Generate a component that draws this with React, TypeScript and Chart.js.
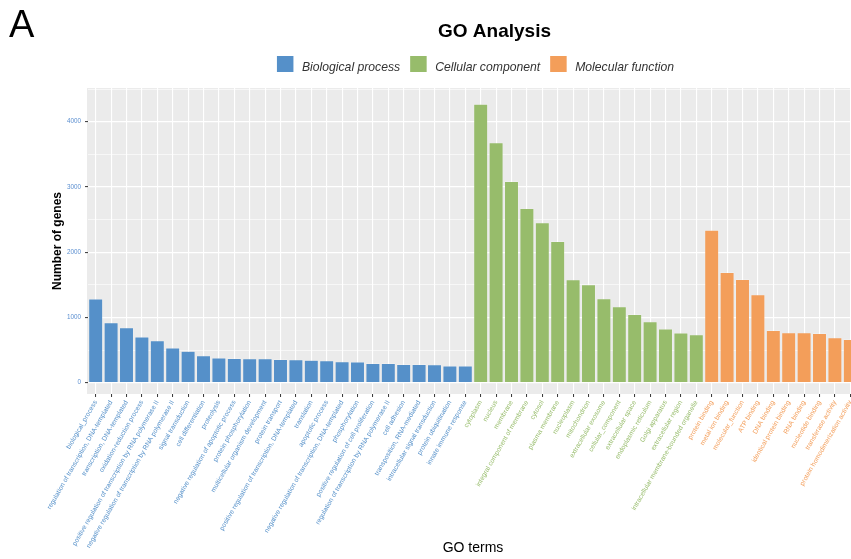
import React, { useEffect, useRef } from "react";
import { Chart, registerables } from "chart.js";

Chart.register(...registerables);

// GO term categories and gene counts, grouped by ontology
const bioProcessTerms = [
  "biological_process",
  "regulation of transcription, DNA-templated",
  "transcription, DNA-templated",
  "oxidation-reduction process",
  "positive regulation of transcription by RNA polymerase II",
  "negative regulation of transcription by RNA polymerase II",
  "signal transduction",
  "cell differentiation",
  "proteolysis",
  "negative regulation of apoptotic process",
  "protein phosphorylation",
  "multicellular organism development",
  "protein transport",
  "positive regulation of transcription, DNA-templated",
  "translation",
  "apoptotic process",
  "negative regulation of transcription, DNA-templated",
  "phosphorylation",
  "positive regulation of cell proliferation",
  "regulation of transcription by RNA polymerase II",
  "cell adhesion",
  "transposition, RNA-mediated",
  "intracellular signal transduction",
  "protein ubiquitination",
  "innate immune response",
];
const bioProcessCounts = [
  1285, 921, 845, 701, 645, 533, 482, 415, 379, 374, 369, 369, 359, 354, 344,
  338, 323, 318, 297, 297, 282, 282, 277, 258, 256,
];

const cellComponentTerms = [
  "cytoplasm",
  "nucleus",
  "membrane",
  "integral component of membrane",
  "cytosol",
  "plasma membrane",
  "nucleoplasm",
  "mitochondrion",
  "extracellular exosome",
  "cellular_component",
  "extracellular space",
  "endoplasmic reticulum",
  "Golgi apparatus",
  "extracellular region",
  "intracellular membrane-bounded organelle",
];
const cellComponentCounts = [
  4271, 3678, 3087, 2672, 2452, 2167, 1579, 1502, 1287, 1165, 1048, 935, 823,
  762, 736,
];

const molFunctionTerms = [
  "protein binding",
  "metal ion binding",
  "molecular_function",
  "ATP binding",
  "DNA binding",
  "identical protein binding",
  "RNA binding",
  "nucleotide binding",
  "transferase activity",
  "protein homodimerization activity",
];
const molFunctionCounts = [2340, 1692, 1585, 1349, 803, 767, 766, 757, 690, 665];

const groupNames = ["Biological process", "Cellular component", "Molecular function"];
const groupColors = ["#5590C9", "#97BC6B", "#F39E5A"];

// labelled (major) and unlabelled (minor) horizontal grid values
const yMajorTicks = [0, 1000, 2000, 3000, 4000];
const yGridValues = [0, 500, 1000, 1500, 2000, 2500, 3000, 3500, 4000, 4500];

const FONT = "'Liberation Sans', Arial, Helvetica, sans-serif";

export default function App() {
  const canvasRef = useRef<HTMLCanvasElement>(null);

  useEffect(() => {
    const canvas = canvasRef.current;
    if (!canvas) return;

    const labels = [...bioProcessTerms, ...cellComponentTerms, ...molFunctionTerms];
    const groups = [bioProcessCounts, cellComponentCounts, molFunctionCounts];
    const starts = [0, bioProcessTerms.length, bioProcessTerms.length + cellComponentTerms.length];

    const placeGroup = (values: number[], start: number) =>
      labels.map((_, i) => (i >= start && i < start + values.length ? values[i - start] : null));

    const groupOf = (index: number) =>
      index < starts[1] ? 0 : index < starts[2] ? 1 : 2;

    const datasets = groups.map((values, g) => ({
      label: groupNames[g],
      data: placeGroup(values, starts[g]),
      backgroundColor: groupColors[g],
      borderColor: "rgba(255,255,255,0.35)",
      borderWidth: 0.6,
      grouped: false,
      barPercentage: 0.92,
      categoryPercentage: 1,
    }));

    const isMajor = (v: any) => yMajorTicks.includes(Number(v));

    const decorations = {
      id: "decorations",
      beforeDraw(chart: any) {
        const { ctx, chartArea } = chart;
        ctx.save();
        ctx.fillStyle = "#EBEBEB";
        ctx.fillRect(chartArea.left - 1, chartArea.top, chartArea.right - chartArea.left + 1, chartArea.bottom - chartArea.top);
        ctx.restore();
      },
      afterDraw(chart: any) {
        const { ctx } = chart;
        ctx.save();
        ctx.fillStyle = "#000";
        ctx.textBaseline = "alphabetic";

        // panel letter
        ctx.textAlign = "left";
        ctx.font = `38px ${FONT}`;
        ctx.fillText("A", 9, 36.7);

        // title
        ctx.textAlign = "center";
        ctx.font = `bold 19px ${FONT}`;
        ctx.fillText("GO Analysis", 494.5, 37.3);

        // legend
        ctx.font = `italic 12.2px ${FONT}`;
        ctx.textAlign = "left";
        const box = 16.5;
        const boxGap = 8.5;
        const itemGap = 10;
        const widths = groupNames.map((n) => ctx.measureText(n).width);
        const total = widths.reduce((s, w) => s + box + boxGap + w, 0) + itemGap * (groupNames.length - 1);
        let x = 475.5 - total / 2;
        groupNames.forEach((name, g) => {
          ctx.fillStyle = groupColors[g];
          ctx.fillRect(x, 56, box, 16);
          ctx.fillStyle = "#333";
          ctx.fillText(name, x + box + boxGap, 70.5);
          x += box + boxGap + widths[g] + itemGap;
        });
        ctx.restore();
      },
    };

    const chart = new Chart(canvas, {
      type: "bar",
      data: { labels, datasets },
      plugins: [decorations],
      options: {
        responsive: false,
        animation: false,
        devicePixelRatio: 1,
        events: [],
        layout: { padding: { top: 88, left: 0, right: 2, bottom: 0 } },
        plugins: {
          legend: { display: false },
          title: { display: false },
          tooltip: { enabled: false },
        },
        scales: {
          x: {
            type: "category",
            offset: true,
            border: { display: false },
            grid: {
              offset: false,
              color: "#FFFFFF",
              lineWidth: 1.1,
              drawTicks: true,
              tickLength: 3,
              tickColor: "#333333",
              tickWidth: 1,
            },
            ticks: {
              autoSkip: false,
              minRotation: 60,
              maxRotation: 60,
              padding: 2,
              font: { family: FONT, size: 6.7 },
              color: (ctx: any) => groupColors[groupOf(ctx.index)],
            },
            title: {
              display: true,
              text: "GO terms",
              color: "#000",
              font: { family: FONT, size: 14 },
              padding: { top: 0, bottom: 2.6 },
            },
            afterFit: (scale: any) => {
              scale.height = 165;
            },
          },
          y: {
            type: "linear",
            min: -173,
            max: 4517,
            border: { display: false },
            afterBuildTicks: (scale: any) => {
              scale.ticks = yGridValues.map((v) => ({ value: v }));
            },
            grid: {
              color: "#FFFFFF",
              lineWidth: (ctx: any) => (isMajor(ctx.tick?.value) ? 1.2 : 0.6),
              drawTicks: true,
              tickLength: 3,
              tickWidth: 1,
              tickColor: (ctx: any) => (isMajor(ctx.tick?.value) ? "#333333" : "rgba(0,0,0,0)"),
            },
            ticks: {
              autoSkip: false,
              padding: 4,
              color: "#5B8FD0",
              font: { family: FONT, size: 6.3 },
              callback: (value: any) => (isMajor(value) ? String(value) : ""),
            },
            title: {
              display: true,
              text: "Number of genes",
              color: "#000",
              font: { family: FONT, size: 12, weight: "bold" },
              padding: { top: 50.5, bottom: 0 },
            },
            afterFit: (scale: any) => {
              scale.width = 88;
            },
          },
        },
      },
    } as any);

    return () => chart.destroy();
  }, []);

  return (
    <div
      style={{
        position: "fixed",
        left: 0,
        top: 0,
        width: 851,
        height: 559,
        overflow: "hidden",
        background: "#ffffff",
      }}
    >
      <canvas ref={canvasRef} width={860} height={559} style={{ display: "block" }} />
    </div>
  );
}
